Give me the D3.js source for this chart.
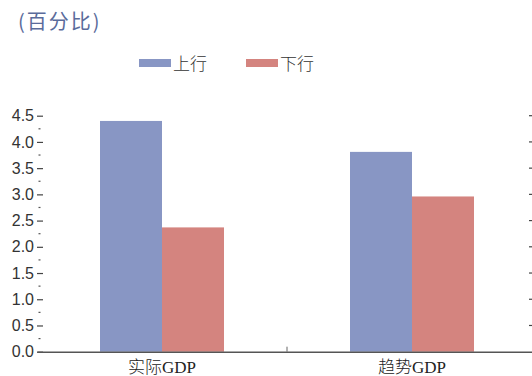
<!DOCTYPE html>
<html><head><meta charset="utf-8">
<script src="https://cdn.jsdelivr.net/npm/d3@7"></script>
<style>body{margin:0;background:#fff}svg{display:block}</style>
</head><body><svg id="c" width="532" height="376"></svg>
<script>
const categories = ["实际GDP", "趋势GDP"];
const seriesNames = ["上行", "下行"];
const upValues = [4.4, 3.81];
const downValues = [2.37, 2.96];
const yTicks = [0, 0.5, 1, 1.5, 2, 2.5, 3, 3.5, 4, 4.5];
const colors = ["#8896c4", "#d4847f"];

const svg = d3.select("#c");
const x0 = d3.scaleBand().domain(categories).range([37, 537]).paddingInner(0).paddingOuter(0);
const y = d3.scaleLinear().domain([0, 4.5]).range([351.7, 115.7]);
const groupW = 124;
const x1 = d3.scaleBand().domain(seriesNames).range([0, groupW]);

const data = categories.map((c, i) => ({cat: c, vals: [upValues[i], downValues[i]]}));
const g = svg.selectAll("g.grp").data(data).join("g")
  .attr("transform", d => `translate(${x0(d.cat) + (x0.bandwidth() - groupW) / 2},0)`);
g.selectAll("rect").data(d => d.vals.map((v, j) => ({v, s: seriesNames[j], j}))).join("rect")
  .attr("x", d => x1(d.s)).attr("width", x1.bandwidth())
  .attr("y", d => y(d.v)).attr("height", d => y(0) - y(d.v))
  .attr("fill", d => colors[d.j]);

// left axis (no domain line)
const left = svg.append("g").attr("transform", "translate(43,0)")
  .call(d3.axisLeft(y).tickValues(yTicks).tickFormat(d3.format(".1f")).tickSize(6).tickPadding(3));
left.select(".domain").remove();
left.selectAll("line").attr("stroke", "#444").attr("stroke-width", 1.2);
left.selectAll("text").attr("font-family", "Liberation Sans, Arial, sans-serif").attr("font-size", 16).attr("fill", "#333");
// minor ticks
const minor = d3.range(0.25, 4.5, 0.5);
svg.append("g").selectAll("line").data(minor).join("line")
  .attr("x1", 38.5).attr("x2", 40.5).attr("y1", d => y(d)).attr("y2", d => y(d))
  .attr("stroke", "#555").attr("stroke-width", 1.2);

// right axis ticks (cut off)
svg.append("g").selectAll("line").data(yTicks.slice(1)).join("line")
  .attr("x1", 529).attr("x2", 535).attr("y1", d => y(d)).attr("y2", d => y(d))
  .attr("stroke", "#444").attr("stroke-width", 1.2);

// bottom axis
const bottom = svg.append("g").attr("transform", `translate(0,${y(0)})`)
  .call(d3.axisBottom(x0).tickSize(0).tickPadding(9));
bottom.select(".domain").attr("stroke", "#555").attr("stroke-width", 1.6);
bottom.selectAll("text").attr("font-family", "Liberation Serif, 'Noto Sans CJK SC', serif")
  .attr("font-size", 17).attr("font-weight", 300).attr("fill", "#222");
// category separator tick
svg.append("line").attr("x1", x0("趋势GDP")).attr("x2", x0("趋势GDP"))
  .attr("y1", y(0) - 5).attr("y2", y(0)).attr("stroke", "#666").attr("stroke-width", 1);

// title
svg.append("text").attr("x", 18).attr("y", 29).text("(百分比)")
  .attr("font-family", "'Noto Sans CJK SC', sans-serif").attr("font-size", 20).attr("font-weight", 400).attr("fill", "#5a6b9b")
  .attr("letter-spacing", 2);

// legend
const legX = [139, 246];
const leg = svg.append("g").selectAll("g").data(seriesNames).join("g")
  .attr("transform", (d, i) => `translate(${legX[i]},0)`);
leg.append("rect").attr("x", 0).attr("y", 59).attr("width", 32).attr("height", 8)
  .attr("fill", (d, i) => colors[i]);
leg.append("text").attr("x", 34).attr("y", 70).text(d => d)
  .attr("font-family", "'Noto Sans CJK SC', sans-serif").attr("font-size", 17).attr("font-weight", 300).attr("fill", "#333");
</script></body></html>
